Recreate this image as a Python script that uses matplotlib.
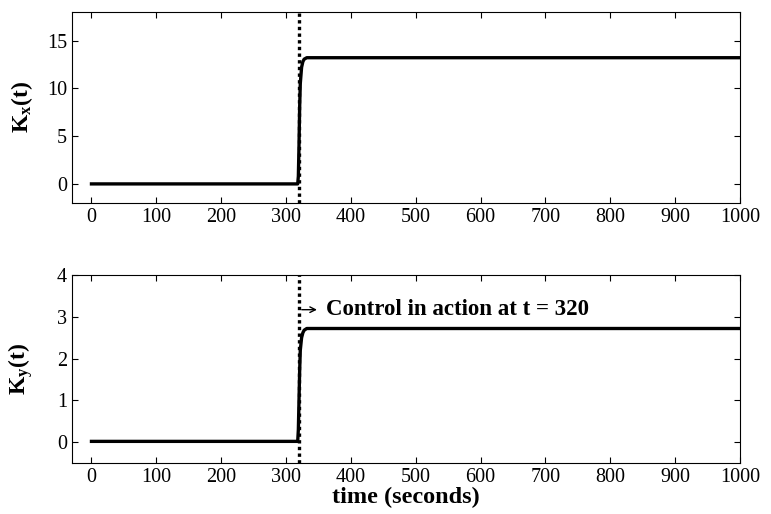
import matplotlib
matplotlib.use('Agg')
import matplotlib.pyplot as plt

# control gains over time
t = [0, 318, 319, 320, 321, 322, 324, 326, 328, 332, 1000]
kx = [0.0, 0.0, 0.8, 4.0, 8.0, 10.5, 12.2, 12.8, 13.05, 13.2, 13.2]
ky = [0.02, 0.02, 0.3, 1.0, 1.7, 2.2, 2.5, 2.62, 2.68, 2.72, 2.72]
t_control = 320

plt.rcParams['font.family'] = 'Liberation Serif'
plt.rcParams['mathtext.fontset'] = 'custom'
plt.rcParams['mathtext.rm'] = 'Liberation Serif'
plt.rcParams['mathtext.bf'] = 'Liberation Serif:bold'
plt.rcParams['mathtext.it'] = 'Liberation Serif:italic'

fig = plt.figure(figsize=(7.71, 5.14), dpi=100)
ax1 = fig.add_axes([0.0934, 0.605, 0.8664, 0.372])
ax2 = fig.add_axes([0.0934, 0.099, 0.8664, 0.366])

for ax, y, lab, ylim, yticks in [
        (ax1, kx, r'$\mathbf{K_x(t)}$', (-2, 18), [0, 5, 10, 15]),
        (ax2, ky, r'$\mathbf{K_y(t)}$', (-0.5, 4), [0, 1, 2, 3, 4])]:
    ax.plot(t, y, color='black', linewidth=2.4, solid_joinstyle='round')
    ax.axvline(t_control, color='black', linestyle=(0, (1, 1)), linewidth=2.4)
    ax.set_xlim(-30, 1000)
    ax.set_ylim(*ylim)
    ax.set_yticks(yticks)
    ax.set_xticks(range(0, 1001, 100))
    ax.tick_params(direction='in', top=True, right=True, length=4,
                   labelsize=14.5, width=0.8)
    ax.set_ylabel(lab, fontsize=17)
    ax.yaxis.set_label_coords(-0.055, 0.5)
    for sp in ax.spines.values():
        sp.set_linewidth(0.8)

ax2.annotate('', xy=(352, 3.17), xytext=(320, 3.17),
             arrowprops=dict(arrowstyle='->', color='black', lw=1.0))
ax2.text(362, 3.17, 'Control in action at t = 320', fontsize=16.5,
         fontweight='bold', va='center', ha='left')

ax2.set_xlabel('time (seconds)', fontsize=17.5, fontweight='bold', labelpad=0)

fig.savefig('out.png', dpi=100)
